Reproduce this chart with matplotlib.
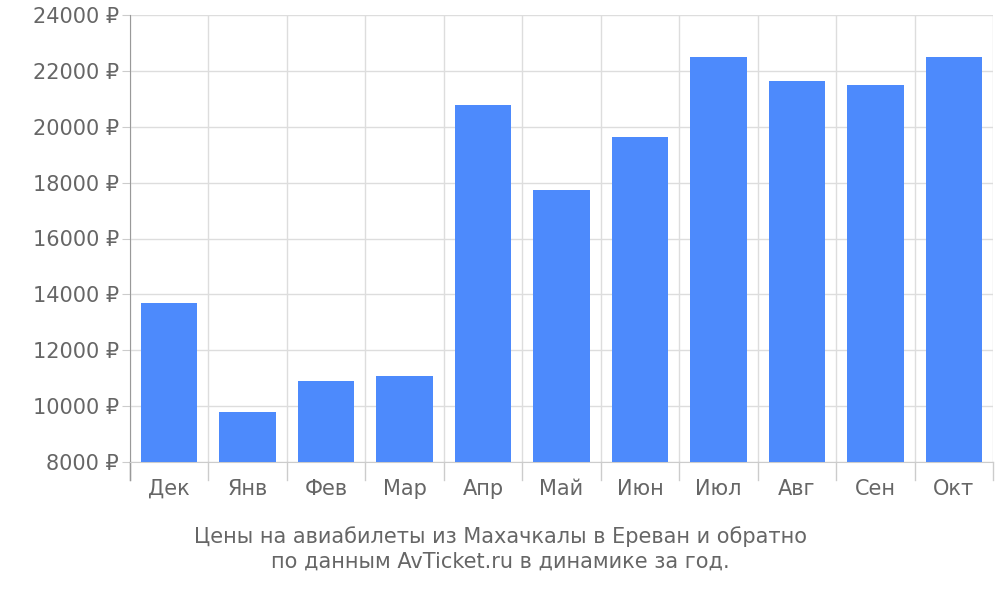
import matplotlib
matplotlib.use('Agg')
import matplotlib.pyplot as plt
import numpy as np

months = ['Дек', 'Янв', 'Фев', 'Мар', 'Апр', 'Май', 'Июн', 'Июл', 'Авг', 'Сен', 'Окт']
prices = [13700, 9800, 10900, 11080, 20780, 17750, 19630, 22500, 21640, 21490, 22500]
yticks = list(range(8000, 24001, 2000))

fig = plt.figure(figsize=(10, 6), dpi=100)
ax = fig.add_axes([0.130, 0.230, 0.863, 0.745])

x = np.arange(len(months))
ax.bar(x, prices, width=0.72, color='#4d8afc', zorder=3)

ax.set_xlim(-0.5, len(months) - 0.5)
ax.set_ylim(8000, 24000)
ax.set_yticks(yticks)
ax.set_yticklabels([f'{v} ₽' for v in yticks], fontsize=15, color='#666666')
ax.set_xticks(x)
ax.set_xticklabels(months, fontsize=15, color='#666666')
ax.tick_params(axis='x', length=0, pad=12)
ax.tick_params(axis='y', length=6, color='#cccccc', pad=2)

# boundaries between categories: grid lines + tick marks below
for b in np.arange(-0.5, len(months), 1.0):
    ax.axvline(b, color='#dddddd', lw=1, zorder=1)
    ax.plot([b, b], [0, -0.04], transform=ax.get_xaxis_transform(),
            color='#cccccc', lw=1, clip_on=False)
ax.grid(axis='y', color='#dddddd', lw=1, zorder=1)

for s in ['top', 'right']:
    ax.spines[s].set_visible(False)
ax.spines['left'].set_color('#999999')
ax.spines['left'].set_bounds(8000, 24000)
ax.spines['bottom'].set_color('#cccccc')
ax.plot([0, 0], [0, -0.04], transform=ax.transAxes, color='#999999', lw=1, clip_on=False)

fig.text(0.5, 0.085, 'Цены на авиабилеты из Махачкалы в Ереван и обратно\nпо данным AvTicket.ru в динамике за год.',
         ha='center', va='center', fontsize=15, color='#666666', linespacing=1.3)

fig.savefig('out.png', dpi=100)
